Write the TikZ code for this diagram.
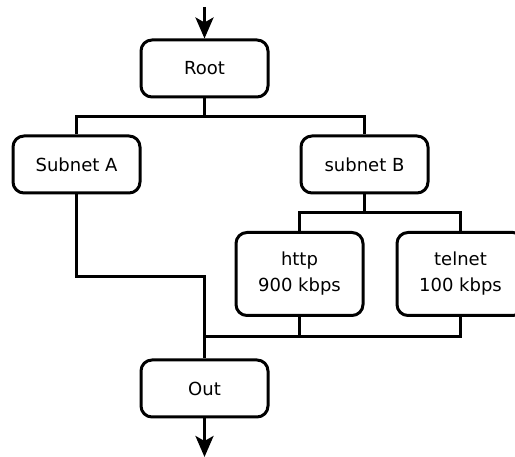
\documentclass[tikz,border=0pt]{standalone}
\usepackage{fontspec}
\setmainfont{DejaVu Sans}
\usetikzlibrary{arrows.meta}
\begin{document}
\begin{tikzpicture}[x=1pt,y=-1pt,
  line width=3pt,
  block/.style={draw, rounded corners=11pt, minimum width=127pt, minimum height=57pt,
    align=center, inner sep=0pt, font=\fontsize{18}{26}\selectfont},
  tall/.style={block, minimum height=83pt},
  flow/.style={-{Stealth[length=21pt,width=18pt,inset=5pt]}},
]
\useasboundingbox (0,0) rectangle (515,457);
\clip (0,0) rectangle (515,457);

% boxes
\node[block] (root)   at (204.5,68.5) {Root};
\node[block] (suba)   at (76.5,164.5) {Subnet A};
\node[block] (subb)   at (364.5,164.5){subnet B};
\node[tall]  (http)   at (299.5,274)  {http\\900 kbps};
\node[tall]  (telnet) at (460.5,274)  {telnet\\100 kbps};
\node[block] (out)    at (204.5,388.5){Out};

% junction points
\coordinate (in)    at (204.5,7);
\coordinate (split) at (204.5,116.5);
\coordinate (fork)  at (364.5,212.5);
\coordinate (bend)  at (204.5,276.5);
\coordinate (merge) at (204.5,336.5);
\coordinate (exit)  at (204.5,457);

% entry and exit
\draw[flow] (in) -- (root.north);
\draw[flow] (out.south) -- (exit);

% root splits into the two subnets
\draw (root.south) -- (split);
\draw (suba.north) |- (split) -| (subb.north);

% subnet B splits into the two services
\draw (subb.south) -- (fork);
\draw (http.north) |- (fork) -| (telnet.north);

% everything merges into Out
\draw (suba.south) |- (bend) -- (out.north);
\draw (merge) -| (telnet.south);
\draw (http.south) -- (http.south |- merge);
\end{tikzpicture}
\end{document}
